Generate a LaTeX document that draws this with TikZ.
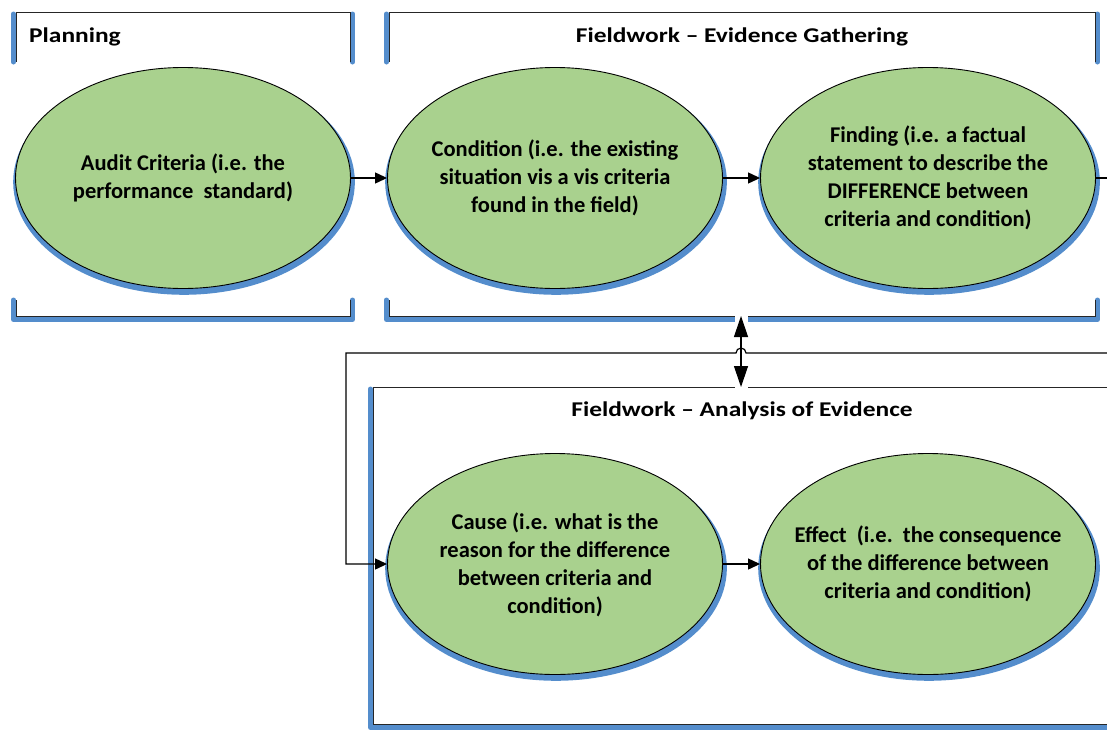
\documentclass[tikz,border=0pt]{standalone}
\usepackage{fontspec}
\setmainfont{Carlito}
\newfontfamily\widefont{Carlito}[FakeStretch=1.21]
\usetikzlibrary{shapes.geometric,arrows.meta,shadows}
\definecolor{ovalgreen}{RGB}{169,209,142}
\definecolor{shadowblue}{RGB}{84,141,204}
\begin{document}
\begin{tikzpicture}[x=1pt,y=-1pt,
  oval/.style={ellipse, draw=black, line width=0.9pt, fill=ovalgreen,
    minimum width=335pt, minimum height=221pt, inner sep=0pt,
    drop shadow={shadow xshift=1pt, shadow yshift=-4pt, shadow scale=1.02, opacity=1, fill=shadowblue}},
  ovaltext/.style={align=center, inner sep=0pt, font=\fontsize{22.5}{28}\selectfont\bfseries},
  title/.style={font=\widefont\fontsize{21}{28}\selectfont\bfseries, inner sep=0pt},
  band/.style={draw=shadowblue, line width=5pt, line cap=round, line join=round},
  frame/.style={draw=black!85, line width=1pt},
  conn/.style={draw=black, line width=1.2pt},
  arr/.style={conn, -{Triangle[length=12pt,width=11pt]}},
  dbl/.style={conn, {Triangle[length=21pt,width=14pt]}-{Triangle[length=21pt,width=14pt]}}]
\useasboundingbox (0,0) rectangle (1107,731);
% Planning bracket
\draw[band] (13.5,14) -- (13.5,62);
\draw[band] (352.5,14) -- (352.5,62);
\draw[frame] (16,62) -- (16,12) -- (350,12) -- (350,62);
\draw[band] (13.5,300) -- (13.5,319.5) -- (352.5,319.5) -- (352.5,300);
\draw[frame] (16,300) -- (16,316) -- (350,316) -- (350,300);
% Evidence bracket
\draw[band] (386.5,14) -- (386.5,62);
\draw[band] (1097.5,14) -- (1097.5,62);
\draw[frame] (389,62) -- (389,12) -- (1095,12) -- (1095,62);
\draw[band] (386.5,300) -- (386.5,319.5) -- (1097.5,319.5) -- (1097.5,300);
\draw[frame] (389,300) -- (389,316) -- (1095,316) -- (1095,300);
% Analysis box
\draw[band] (1110,727.5) -- (370.5,727.5) -- (370.5,389);
\draw[frame] (1110,387) -- (373,387) -- (373,724) -- (1110,724);
% titles
\node[title, anchor=west] (tplan) at (29,37) {Planning};
\node[title] (tevid) at (742,37) {Fieldwork – Evidence Gathering};
\node[title] (tanal) at (742,411) {Fieldwork – Analysis of Evidence};
% ovals
\node[oval] (audit) at (183,178) {};
\node[oval] (cond) at (555,178) {};
\node[oval] (find) at (928,178) {};
\node[oval] (cause) at (555,564) {};
\node[oval] (effect) at (928,564) {};
\node[ovaltext] (audittxt) at (audit.center) {Audit Criteria (i.e. the\\performance\ \ standard)};
\node[ovaltext] (condtxt) at (cond.center) {Condition (i.e. the existing\\situation vis a vis criteria\\found in the field)};
\node[ovaltext] (findtxt) at (find.center) {Finding (i.e. a factual\\statement to describe the\\DIFFERENCE between\\criteria and condition)};
\node[ovaltext] (causetxt) at ([yshift=-1pt]cause.center) {Cause (i.e. what is the\\reason for the difference\\between criteria and\\condition)};
\node[ovaltext] (effecttxt) at (effect.center) {Effect\ \ (i.e.\ \ the consequence\\of the difference between\\criteria and condition)};
% connectors
\draw[arr] (audit.east) -- (cond.west);
\draw[arr] (cond.east) -- (find.west);
\draw[arr] (cause.east) -- (effect.west);
\coordinate (rout) at (1107,178);
\draw[conn] (find.east) -- (rout);
\coordinate (rback) at (1107,353);
\coordinate (hopR) at (746,353);
\coordinate (lc) at (346,353);
\draw[arr] (rback) -- (hopR) arc[start angle=0, end angle=-180, radius=5] -- (lc) |- (cause.west);
% double arrow
\fill[white] (734.5,315) rectangle (747.5,326);
\fill[white] (734.5,384) rectangle (747.5,390);
\coordinate (ebot) at (741,316);
\coordinate (atop) at (741,387);
\draw[dbl] (ebot) -- (atop);
\end{tikzpicture}
\end{document}
